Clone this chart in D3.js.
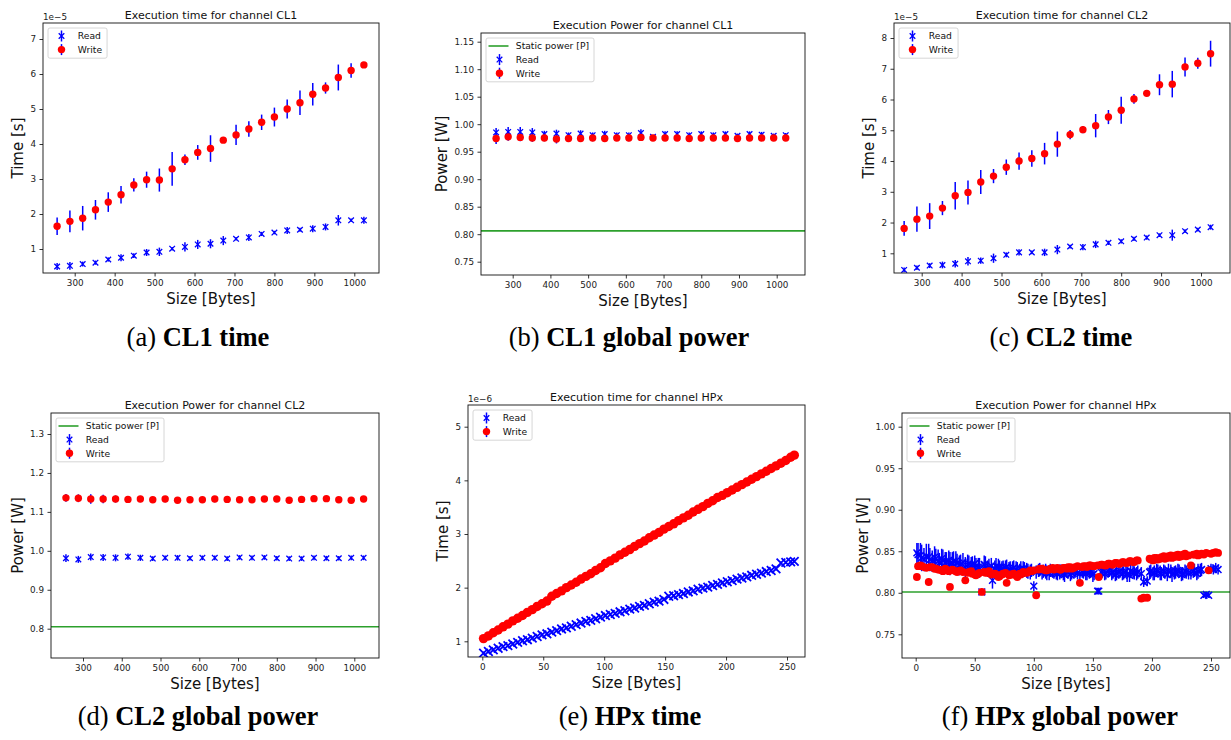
<!DOCTYPE html>
<html><head><meta charset="utf-8">
<script src="https://cdn.jsdelivr.net/npm/d3@7"></script>
<style>body{margin:0;background:#fff}svg{display:block}</style>
</head><body>
<svg id="fig" width="1231" height="740"></svg>
<script>
// ---------------- DATA ----------------
const sizesCL = [256,288,320,352,384,416,448,480,512,544,576,608,640,672,704,736,768,800,832,864,896,928,960,992,1024];

// CL1 time (units of 1e-5 s)
const cl1TimeRead     = [0.50,0.52,0.57,0.61,0.70,0.75,0.81,0.90,0.92,1.01,1.06,1.13,1.15,1.24,1.29,1.33,1.43,1.47,1.53,1.55,1.58,1.63,1.82,1.82,1.82];
const cl1TimeReadErr  = [0.10,0.11,0.07,0.06,0.06,0.10,0.07,0.10,0.12,0.05,0.13,0.13,0.13,0.13,0.05,0.10,0.06,0.05,0.10,0.06,0.10,0.10,0.15,0.05,0.10];
const cl1TimeWrite    = [1.65,1.79,1.88,2.12,2.34,2.55,2.83,2.98,2.97,3.29,3.55,3.76,3.87,4.11,4.26,4.43,4.62,4.77,5.00,5.18,5.42,5.60,5.90,6.10,6.26];
const cl1TimeWriteErr = [0.25,0.31,0.35,0.28,0.28,0.25,0.19,0.23,0.33,0.48,0.15,0.21,0.38,0.05,0.29,0.22,0.22,0.27,0.27,0.35,0.32,0.16,0.37,0.21,0.05];

// CL1 power (W)
const cl1PowRead     = [0.985,0.986,0.986,0.985,0.982,0.983,0.980,0.983,0.980,0.982,0.980,0.980,0.984,0.977,0.982,0.982,0.980,0.982,0.980,0.982,0.979,0.982,0.981,0.979,0.980];
const cl1PowReadErr  = [0.008,0.009,0.009,0.008,0.006,0.007,0.005,0.006,0.005,0.006,0.005,0.005,0.007,0.004,0.005,0.005,0.005,0.005,0.005,0.005,0.004,0.005,0.005,0.004,0.004];
const cl1PowWrite    = [0.974,0.977,0.976,0.975,0.975,0.973,0.974,0.974,0.975,0.974,0.975,0.975,0.976,0.975,0.975,0.975,0.974,0.975,0.975,0.975,0.974,0.975,0.975,0.975,0.975];
const cl1PowWriteErr = [0.010,0.007,0.007,0.007,0.006,0.008,0.005,0.006,0.006,0.006,0.005,0.006,0.005,0.004,0.005,0.005,0.005,0.005,0.005,0.005,0.005,0.005,0.005,0.005,0.005];
const cl1Static = 0.806;

// CL2 time (units of 1e-5 s)
const cl2TimeRead     = [0.46,0.53,0.60,0.62,0.66,0.74,0.76,0.84,0.95,1.03,1.03,1.03,1.12,1.22,1.20,1.29,1.34,1.39,1.47,1.51,1.59,1.59,1.72,1.77,1.85];
const cl2TimeReadErr  = [0.08,0.07,0.08,0.11,0.12,0.14,0.10,0.15,0.08,0.10,0.06,0.12,0.15,0.06,0.10,0.12,0.07,0.07,0.07,0.07,0.06,0.18,0.06,0.06,0.08];
const cl2TimeWrite    = [1.81,2.11,2.21,2.47,2.87,2.98,3.32,3.51,3.80,4.00,4.08,4.24,4.55,4.86,5.02,5.15,5.43,5.65,6.02,6.20,6.48,6.50,7.06,7.18,7.49];
const cl2TimeWriteErr = [0.24,0.41,0.42,0.23,0.45,0.39,0.39,0.23,0.25,0.28,0.27,0.35,0.41,0.15,0.12,0.38,0.23,0.44,0.16,0.05,0.34,0.43,0.31,0.18,0.42];

// CL2 power (W)
const cl2PowRead     = [0.981,0.978,0.984,0.983,0.982,0.985,0.982,0.980,0.982,0.982,0.981,0.982,0.982,0.980,0.983,0.982,0.983,0.981,0.980,0.980,0.982,0.981,0.981,0.982,0.982];
const cl2PowReadErr  = [0.010,0.009,0.009,0.009,0.009,0.008,0.008,0.006,0.006,0.007,0.006,0.006,0.006,0.006,0.006,0.006,0.006,0.006,0.006,0.006,0.006,0.006,0.006,0.006,0.006];
const cl2PowWrite    = [1.136,1.135,1.133,1.133,1.133,1.132,1.133,1.131,1.133,1.130,1.131,1.131,1.133,1.132,1.131,1.131,1.133,1.133,1.130,1.132,1.134,1.134,1.131,1.130,1.133];
const cl2PowWriteErr = [0.010,0.010,0.012,0.011,0.009,0.008,0.008,0.007,0.008,0.007,0.007,0.007,0.008,0.007,0.007,0.008,0.007,0.007,0.006,0.007,0.007,0.007,0.007,0.006,0.007];
const cl2Static = 0.805;

// HPx time (units of 1e-6 s)
const sizesHPxTime = [1,5,9,13,17,21,25,29,33,37,41,45,49,53,57,61,65,69,73,77,81,85,89,93,97,101,105,109,113,117,121,125,129,133,137,141,145,149,153,157,161,165,169,173,177,181,185,189,193,197,201,205,209,213,217,221,225,229,233,237,241,245,249,253,256];
const hpxTimeRead  = [0.78,0.81,0.84,0.87,0.90,0.92,0.95,0.98,1.01,1.03,1.06,1.09,1.12,1.14,1.17,1.20,1.23,1.25,1.28,1.31,1.34,1.37,1.39,1.42,1.45,1.48,1.50,1.52,1.55,1.57,1.60,1.62,1.65,1.67,1.70,1.73,1.75,1.78,1.84,1.85,1.87,1.89,1.92,1.94,1.97,1.99,2.01,2.04,2.06,2.09,2.11,2.13,2.16,2.18,2.20,2.23,2.25,2.27,2.30,2.32,2.35,2.46,2.47,2.48,2.49];
const hpxTimeReadErr  = [0.03,0.03,0.03,0.03,0.03,0.03,0.03,0.03,0.03,0.03,0.03,0.03,0.03,0.03,0.03,0.03,0.03,0.03,0.03,0.03,0.03,0.03,0.03,0.03,0.03,0.03,0.03,0.03,0.03,0.03,0.03,0.03,0.03,0.03,0.03,0.03,0.03,0.03,0.03,0.03,0.03,0.03,0.03,0.03,0.03,0.03,0.03,0.03,0.03,0.03,0.03,0.03,0.03,0.03,0.03,0.03,0.03,0.03,0.03,0.03,0.03,0.03,0.03,0.03,0.03];
const hpxTimeWrite = [1.05,1.10,1.16,1.21,1.27,1.32,1.38,1.43,1.48,1.54,1.59,1.65,1.70,1.75,1.84,1.89,1.94,2.00,2.05,2.10,2.16,2.21,2.26,2.32,2.37,2.45,2.50,2.55,2.61,2.66,2.71,2.77,2.82,2.87,2.93,2.98,3.03,3.09,3.14,3.19,3.25,3.30,3.35,3.41,3.46,3.51,3.57,3.62,3.68,3.72,3.77,3.82,3.87,3.92,3.97,4.02,4.07,4.12,4.17,4.22,4.27,4.32,4.37,4.43,4.47];
const hpxTimeWriteErr = [0.03,0.03,0.03,0.03,0.03,0.03,0.03,0.03,0.03,0.03,0.03,0.03,0.03,0.03,0.03,0.03,0.03,0.03,0.03,0.03,0.03,0.03,0.03,0.03,0.03,0.03,0.03,0.03,0.03,0.03,0.03,0.03,0.03,0.03,0.03,0.03,0.03,0.03,0.03,0.03,0.03,0.03,0.03,0.03,0.03,0.03,0.03,0.03,0.03,0.03,0.03,0.03,0.03,0.03,0.03,0.03,0.03,0.03,0.03,0.03,0.03,0.03,0.03,0.03,0.03];

// HPx power (W) - main samples
const sizesHPxPow = [1,4,7,11,14,17,20,23,26,29,32,35,38,42,45,48,51,54,56,59,62,65,68,71,74,77,80,83,86,89,92,95,98,100,102,105,108,111,114,117,120,123,126,129,132,135,139,142,145,148,151,154,155,158,161,164,167,170,173,176,179,182,185,188,191,193,196,199,202,205,208,211,214,217,220,223,226,229,233,236,239,242,244,246,248,250,252,254,256];
const hpxPowRead     = [0.848,0.845,0.840,0.843,0.838,0.841,0.836,0.839,0.837,0.835,0.838,0.836,0.834,0.831,0.835,0.833,0.832,0.830,0.801,0.833,0.831,0.815,0.832,0.830,0.829,0.831,0.828,0.830,0.827,0.829,0.828,0.826,0.827,0.808,0.825,0.828,0.826,0.824,0.827,0.825,0.823,0.826,0.822,0.825,0.824,0.826,0.823,0.825,0.824,0.826,0.823,0.802,0.802,0.826,0.824,0.827,0.825,0.823,0.826,0.824,0.822,0.826,0.824,0.825,0.823,0.813,0.814,0.826,0.824,0.826,0.823,0.825,0.827,0.822,0.825,0.826,0.823,0.825,0.824,0.827,0.826,0.828,0.797,0.798,0.797,0.829,0.828,0.830,0.828];
const hpxPowReadErr  = [0.012,0.015,0.014,0.016,0.013,0.012,0.012,0.013,0.012,0.014,0.012,0.011,0.012,0.012,0.010,0.011,0.010,0.012,0.004,0.011,0.010,0.010,0.010,0.009,0.010,0.009,0.010,0.009,0.010,0.009,0.009,0.009,0.008,0.006,0.008,0.008,0.008,0.009,0.008,0.008,0.008,0.008,0.009,0.008,0.008,0.008,0.008,0.008,0.009,0.008,0.008,0.004,0.004,0.008,0.008,0.008,0.008,0.008,0.008,0.008,0.009,0.008,0.008,0.008,0.008,0.006,0.006,0.008,0.009,0.008,0.008,0.008,0.008,0.009,0.008,0.008,0.008,0.008,0.008,0.008,0.009,0.008,0.003,0.003,0.003,0.006,0.006,0.006,0.006];
const hpxPowWrite    = [0.819,0.833,0.831,0.813,0.831,0.829,0.828,0.826,0.828,0.807,0.827,0.825,0.827,0.815,0.825,0.823,0.821,0.824,0.801,0.824,0.826,0.823,0.822,0.820,0.823,0.812,0.822,0.823,0.819,0.822,0.824,0.825,0.826,0.827,0.797,0.829,0.828,0.827,0.829,0.828,0.830,0.828,0.830,0.831,0.829,0.831,0.812,0.832,0.831,0.833,0.832,0.833,0.819,0.834,0.833,0.835,0.834,0.836,0.835,0.837,0.836,0.838,0.837,0.839,0.793,0.794,0.794,0.840,0.842,0.840,0.843,0.841,0.844,0.842,0.845,0.843,0.846,0.844,0.833,0.846,0.845,0.847,0.846,0.848,0.827,0.847,0.848,0.849,0.848];
const hpxPowWriteErr = [0.003,0.003,0.003,0.004,0.003,0.003,0.003,0.003,0.003,0.004,0.003,0.003,0.003,0.004,0.003,0.003,0.003,0.003,0.003,0.003,0.003,0.003,0.003,0.003,0.003,0.004,0.003,0.003,0.003,0.003,0.003,0.003,0.003,0.003,0.003,0.003,0.003,0.003,0.003,0.003,0.003,0.003,0.003,0.003,0.003,0.003,0.004,0.003,0.003,0.003,0.003,0.003,0.003,0.003,0.003,0.003,0.003,0.003,0.003,0.003,0.003,0.003,0.003,0.003,0.002,0.002,0.002,0.003,0.003,0.003,0.003,0.003,0.003,0.003,0.003,0.003,0.003,0.003,0.003,0.003,0.003,0.003,0.003,0.003,0.003,0.003,0.003,0.003,0.003];
// HPx power (W) - additional in-between samples
const sizesHPxPowB = [2,5,9,12,16,19,22,25,28,31,34,37,40,44,47,50,53,58,61,64,67,70,73,76,79,82,85,88,91,94,97,104,107,110,113,116,119,122,125,128,131,134,137,141,144,147,150,157,160,163,166,169,172,175,178,181,184,187,198,201,204,207,210,213,216,219,222,225,228,231,235,238,241];
const hpxPowReadB    = [0.846,0.842,0.844,0.840,0.843,0.838,0.841,0.836,0.839,0.836,0.838,0.833,0.837,0.834,0.832,0.835,0.831,0.834,0.829,0.832,0.829,0.831,0.828,0.830,0.827,0.829,0.828,0.826,0.829,0.827,0.825,0.827,0.824,0.826,0.823,0.826,0.824,0.825,0.823,0.826,0.822,0.825,0.824,0.826,0.823,0.825,0.822,0.825,0.823,0.826,0.824,0.822,0.825,0.823,0.826,0.821,0.825,0.823,0.825,0.823,0.827,0.824,0.826,0.822,0.826,0.824,0.827,0.822,0.826,0.824,0.826,0.823,0.827];
const hpxPowReadErrB = [0.014,0.016,0.015,0.014,0.013,0.014,0.012,0.013,0.012,0.013,0.012,0.012,0.011,0.012,0.011,0.010,0.011,0.011,0.010,0.010,0.010,0.010,0.010,0.009,0.010,0.009,0.010,0.009,0.009,0.009,0.009,0.008,0.008,0.009,0.008,0.008,0.008,0.009,0.008,0.008,0.008,0.008,0.008,0.008,0.008,0.008,0.009,0.008,0.008,0.008,0.009,0.008,0.008,0.008,0.008,0.008,0.008,0.008,0.008,0.008,0.008,0.009,0.008,0.008,0.008,0.008,0.008,0.008,0.008,0.008,0.008,0.008,0.008];
const hpxPowWriteB   = [0.832,0.832,0.830,0.831,0.829,0.828,0.827,0.829,0.826,0.828,0.826,0.826,0.825,0.824,0.826,0.822,0.823,0.825,0.824,0.822,0.823,0.819,0.822,0.824,0.821,0.822,0.821,0.823,0.825,0.824,0.827,0.828,0.829,0.827,0.828,0.830,0.829,0.828,0.830,0.829,0.831,0.830,0.832,0.831,0.832,0.833,0.832,0.834,0.833,0.835,0.834,0.836,0.835,0.837,0.836,0.838,0.837,0.839,0.841,0.839,0.842,0.841,0.844,0.842,0.845,0.843,0.846,0.844,0.847,0.845,0.846,0.847,0.846];
const hpxPowWriteErrB = sizesHPxPowB.map(() => 0.003);
const hpxStatic = 0.801;

// tick labels
const xTicksCL  = [300,400,500,600,700,800,900,1000];
const xTicksHPx = [0,50,100,150,200,250];
const yTicksCL1Time = [1,2,3,4,5,6,7];
const yTicksCL2Time = [1,2,3,4,5,6,7,8];
const yTicksCL1Pow  = [0.75,0.80,0.85,0.90,0.95,1.00,1.05,1.10,1.15];
const yTicksCL2Pow  = [0.8,0.9,1.0,1.1,1.2,1.3];
const yTicksHPxTime = [1,2,3,4,5];
const yTicksHPxPow  = [0.75,0.80,0.85,0.90,0.95,1.00];

const titles = ["Execution time for channel CL1","Execution Power for channel CL1","Execution time for channel CL2",
                "Execution Power for channel CL2","Execution time for channel HPx","Execution Power for channel HPx"];
const captionTags  = ["(a)","(b)","(c)","(d)","(e)","(f)"];
const captionTexts = ["CL1 time","CL1 global power","CL2 time","CL2 global power","HPx time","HPx global power"];

// ---------------- LAYOUT ----------------
const panels = [
  {l:43,t:23,r:379,b:273, xRef:[300,74.7,1000,354.3], yRef:[1,249,7,39], xs:sizesCL, rd:cl1TimeRead, rdE:cl1TimeReadErr, wr:cl1TimeWrite, wrE:cl1TimeWriteErr, xt:xTicksCL, yt:yTicksCL1Time, yf:d3.format("d"), yl:"Time [s]", off:"1e\u22125", cx:198, cy:346, mr:3.7, xs2:2.8, xlw:1.3},
  {l:481,t:33,r:805,b:275, xRef:[300,512.7,1000,776.7], yRef:[0.75,261.7,1.15,41.7], xs:sizesCL, rd:cl1PowRead, rdE:cl1PowReadErr, wr:cl1PowWrite, wrE:cl1PowWriteErr, st:cl1Static, xt:xTicksCL, yt:yTicksCL1Pow, yf:d3.format(".2f"), yl:"Power [W]", cx:629, cy:346, mr:3.7, xs2:2.8, xlw:1.3},
  {l:894,t:23,r:1230,b:273, xRef:[300,921.7,1000,1201], yRef:[1,253.3,8,38], xs:sizesCL, rd:cl2TimeRead, rdE:cl2TimeReadErr, wr:cl2TimeWrite, wrE:cl2TimeWriteErr, xt:xTicksCL, yt:yTicksCL2Time, yf:d3.format("d"), yl:"Time [s]", off:"1e\u22125", cx:1061, cy:346, mr:3.7, xs2:2.8, xlw:1.3},
  {l:51,t:413,r:379,b:658, xRef:[300,83,1000,354.3], yRef:[0.8,628.7,1.3,434], xs:sizesCL, rd:cl2PowRead, rdE:cl2PowReadErr, wr:cl2PowWrite, wrE:cl2PowWriteErr, st:cl2Static, xt:xTicksCL, yt:yTicksCL2Pow, yf:d3.format(".1f"), yl:"Power [W]", cx:198, cy:725, mr:3.7, xs2:2.8, xlw:1.3},
  {l:468,t:405,r:805,b:657, xRef:[0,482.3,250,787], yRef:[1,641.3,5,426.7], xs:sizesHPxTime, rd:hpxTimeRead, rdE:hpxTimeReadErr, wr:hpxTimeWrite, wrE:hpxTimeWriteErr, xt:xTicksHPx, yt:yTicksHPxTime, yf:d3.format("d"), yl:"Time [s]", off:"1e\u22126", cx:630, cy:725, mr:4.7, xs2:4.3, xlw:1.8},
  {l:902,t:413,r:1230,b:658, xRef:[0,915.7,250,1211], yRef:[0.75,634.3,1.0,426.7],
   xs:sizesHPxPowB.concat(sizesHPxPow), rd:hpxPowReadB.concat(hpxPowRead), rdE:hpxPowReadErrB.concat(hpxPowReadErr),
   wr:hpxPowWriteB.concat(hpxPowWrite), wrE:hpxPowWriteErrB.concat(hpxPowWriteErr),
   st:hpxStatic, xt:xTicksHPx, yt:yTicksHPxPow, yf:d3.format(".2f"), yl:"Power [W]", cx:1060, cy:725, mr:3.9, xs2:3.4, xlw:1.5}
];

const BLUE = "#0000ff", RED = "#ff0000", GREEN = "#2ca02c";
const FONT = "DejaVu Sans";
const svg = d3.select("#fig");

panels.forEach((p, i) => {
  const g = svg.append("g");
  const x0 = d3.scaleLinear().domain([p.xRef[0], p.xRef[2]]).range([p.xRef[1], p.xRef[3]]);
  const y0 = d3.scaleLinear().domain([p.yRef[0], p.yRef[2]]).range([p.yRef[1], p.yRef[3]]);
  const x = d3.scaleLinear().domain([x0.invert(p.l), x0.invert(p.r)]).range([p.l, p.r]);
  const y = d3.scaleLinear().domain([y0.invert(p.b), y0.invert(p.t)]).range([p.b, p.t]);

  const cid = "clip" + i;
  svg.append("clipPath").attr("id", cid).append("rect")
    .attr("x", p.l).attr("y", p.t).attr("width", p.r - p.l).attr("height", p.b - p.t);
  const plot = g.append("g").attr("clip-path", `url(#${cid})`);

  if (p.st !== undefined) {
    plot.append("line").attr("x1", p.l).attr("x2", p.r).attr("y1", y(p.st)).attr("y2", y(p.st))
      .attr("stroke", GREEN).attr("stroke-width", 1.6);
  }
  const rows = p.xs.map((s, k) => ({s, r: p.rd[k], re: p.rdE[k], w: p.wr[k], we: p.wrE[k]}));

  // Read: error bars + x markers
  plot.append("g").selectAll("line").data(rows).join("line")
    .attr("x1", d => x(d.s)).attr("x2", d => x(d.s))
    .attr("y1", d => y(d.r - d.re)).attr("y2", d => y(d.r + d.re))
    .attr("stroke", BLUE).attr("stroke-width", 1.5);
  const a = p.xs2;
  plot.append("g").selectAll("path").data(rows).join("path")
    .attr("transform", d => `translate(${x(d.s)},${y(d.r)})`)
    .attr("d", `M${-a},${-a}L${a},${a}M${-a},${a}L${a},${-a}`)
    .attr("stroke", BLUE).attr("stroke-width", p.xlw).attr("fill", "none");
  // Write: error bars + circles
  plot.append("g").selectAll("line").data(rows).join("line")
    .attr("x1", d => x(d.s)).attr("x2", d => x(d.s))
    .attr("y1", d => y(d.w - d.we)).attr("y2", d => y(d.w + d.we))
    .attr("stroke", BLUE).attr("stroke-width", 1.5);
  plot.append("g").selectAll("circle").data(rows).join("circle")
    .attr("cx", d => x(d.s)).attr("cy", d => y(d.w)).attr("r", p.mr)
    .attr("fill", RED);

  // axes
  const xa = g.append("g").attr("transform", `translate(0,${p.b})`)
    .call(d3.axisBottom(x).tickValues(p.xt).tickFormat(d3.format("d")).tickSizeInner(3.5).tickSizeOuter(0).tickPadding(3));
  const ya = g.append("g").attr("transform", `translate(${p.l},0)`)
    .call(d3.axisLeft(y).tickValues(p.yt).tickFormat(p.yf).tickSizeInner(3.5).tickSizeOuter(0).tickPadding(3.5));
  [xa, ya].forEach(ax => {
    ax.select(".domain").remove();
    ax.selectAll(".tick line").attr("stroke", "#000").attr("stroke-width", 0.8);
    ax.selectAll(".tick text").attr("font-family", FONT).attr("font-size", 8.8).attr("fill", "#222");
  });
  let maxW = 0;
  ya.selectAll(".tick text").each(function(){ maxW = Math.max(maxW, this.getComputedTextLength()); });

  // frame
  g.append("rect").attr("x", p.l).attr("y", p.t).attr("width", p.r - p.l).attr("height", p.b - p.t)
    .attr("fill", "none").attr("stroke", "#111").attr("stroke-width", 0.9);

  // title, labels
  g.append("text").attr("x", (p.l + p.r) / 2).attr("y", p.t - 4.5).attr("text-anchor", "middle")
    .attr("font-family", FONT).attr("font-size", 11).attr("fill", "#111").text(titles[i]);
  if (p.off) g.append("text").attr("x", p.l).attr("y", p.t - 3.5)
    .attr("font-family", FONT).attr("font-size", 8.8).attr("fill", "#222").text(p.off);
  g.append("text").attr("x", (p.l + p.r) / 2).attr("y", p.b + 30.5).attr("text-anchor", "middle")
    .attr("font-family", FONT).attr("font-size", 15).attr("fill", "#111").text("Size [Bytes]");
  const ylx = p.l - 7 - maxW - 3.5 - 3.5;
  g.append("text").attr("transform", `translate(${ylx},${(p.t + p.b) / 2}) rotate(-90)`).attr("text-anchor", "middle")
    .attr("font-family", FONT).attr("font-size", 15).attr("fill", "#111").text(p.yl);

  // legend
  const items = [];
  if (p.st !== undefined) items.push({k: "line", label: "Static power [P]"});
  items.push({k: "read", label: "Read"}, {k: "write", label: "Write"});
  const bx = p.l + 5, by = p.t + 5, rh = 13.6;
  const lg = g.append("g");
  const box = lg.append("rect").attr("x", bx).attr("y", by).attr("rx", 2)
    .attr("fill", "#fff").attr("fill-opacity", 0.85).attr("stroke", "#ccc").attr("stroke-width", 0.8);
  let tw = 0;
  items.forEach((it, k) => {
    const cy = by + 8 + k * rh, hx = bx + 13.5;
    if (it.k === "line") {
      lg.append("line").attr("x1", bx + 2.5).attr("x2", bx + 22.5).attr("y1", cy).attr("y2", cy)
        .attr("stroke", GREEN).attr("stroke-width", 1.6);
    } else {
      lg.append("line").attr("x1", hx).attr("x2", hx).attr("y1", cy - 5.5).attr("y2", cy + 5.5)
        .attr("stroke", BLUE).attr("stroke-width", 1.5);
      if (it.k === "read") {
        lg.append("path").attr("transform", `translate(${hx},${cy})`)
          .attr("d", "M-2.8,-2.8L2.8,2.8M-2.8,2.8L2.8,-2.8").attr("stroke", BLUE).attr("stroke-width", 1.3);
      } else {
        lg.append("circle").attr("cx", hx).attr("cy", cy).attr("r", 3.7).attr("fill", RED);
      }
    }
    const t = lg.append("text").attr("x", bx + 29.8).attr("y", cy + 3.3)
      .attr("font-family", FONT).attr("font-size", 9.2).attr("fill", "#111").text(it.label);
    tw = Math.max(tw, t.node().getComputedTextLength());
  });
  box.attr("width", 29.8 + tw + 5).attr("height", items.length * rh + 3);

  // caption
  const cap = svg.append("text").attr("x", p.cx).attr("y", p.cy).attr("text-anchor", "middle")
    .attr("font-family", "Liberation Serif").attr("font-size", 26.5).attr("fill", "#000");
  cap.append("tspan").text(captionTags[i] + " ");
  cap.append("tspan").attr("font-weight", "bold").text(captionTexts[i]);
});
</script>
</body></html>
